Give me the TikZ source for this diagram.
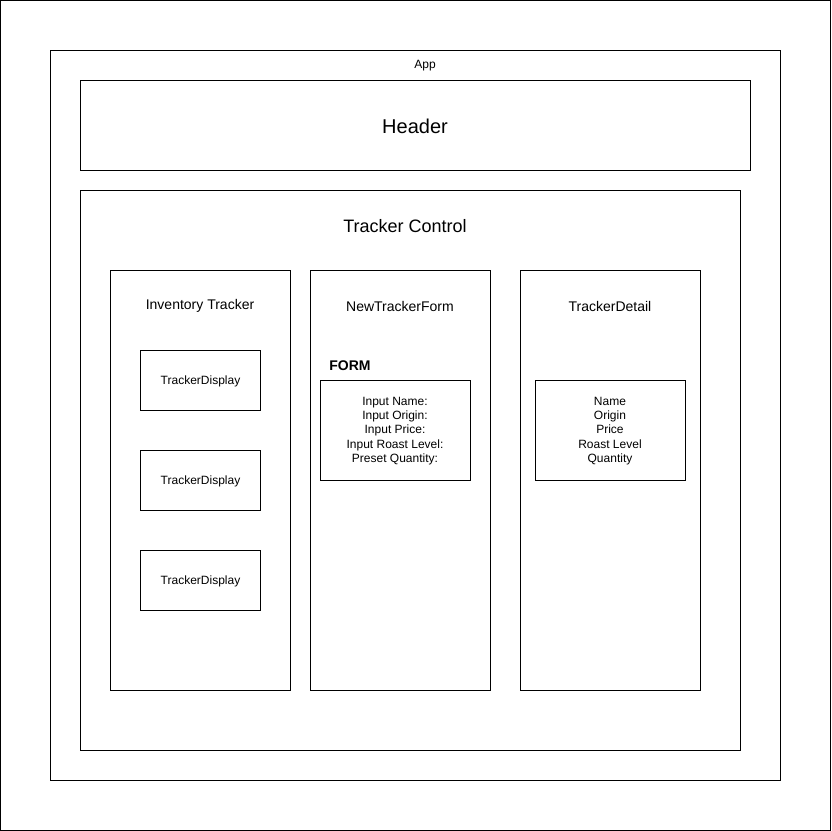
\documentclass[tikz,border=0pt]{standalone}
\usepackage{fontspec}
\setmainfont{Liberation Sans}
\usetikzlibrary{positioning}

\tikzset{
  box/.style={draw, line width=1pt, anchor=north west, inner sep=0pt},
  lbl/.style={inner sep=0pt, font=\fontsize{12}{14}\selectfont},
  lines/.style={inner sep=0pt, align=center, font=\fontsize{12}{14.4}\selectfont}
}

\begin{document}
\begin{tikzpicture}[x=1pt,y=-1pt]
\useasboundingbox (0,0) rectangle (831,831);
% Outer frame
\draw[line width=1pt] (0.5,0.5) rectangle (830.5,830.5);
% App
\node[box, minimum width=730pt, minimum height=730pt] (app) at (50,50) {};
\node[lbl] (applbl) at (425,66) {App};
% Header
\node[box, minimum width=670pt, minimum height=90pt] (header) at (80,80) {};
\node[lbl, font=\fontsize{20}{24}\selectfont] (headerlbl) at (415,126) {Header};
% Tracker control
\node[box, minimum width=660pt, minimum height=560pt] (control) at (80,190) {};
\node[lbl, font=\fontsize{18}{22}\selectfont] (controllbl) at (405,226.5) {Tracker Control};
% Inventory tracker
\node[box, minimum width=180pt, minimum height=420pt] (inventory) at (110,270) {};
\node[lbl, font=\fontsize{14}{17}\selectfont] (inventorylbl) at (200,306) {Inventory Tracker};
\foreach \i/\y in {1/350,2/450,3/550} {
  \node[box, minimum width=120pt, minimum height=60pt] (display\i) at (140,\y) {};
  \node[lbl] (display\i lbl) at ([yshift=-1pt]display\i.center) {TrackerDisplay};
}
% New tracker form
\node[box, minimum width=180pt, minimum height=420pt] (newform) at (310,270) {};
\node[lbl, font=\fontsize{14}{17}\selectfont] (newformlbl) at (400,306) {NewTrackerForm};
\node[lbl, font=\bfseries\fontsize{14}{17}\selectfont] (formlbl) at (350,366) {FORM};
\node[box, minimum width=150pt, minimum height=100pt] (form) at (320,380) {};
\node[lines] (formfields) at (395,431) {Input Name:\\Input Origin:\\Input Price:\\Input Roast Level:\\Preset Quantity:};
% Tracker detail
\node[box, minimum width=180pt, minimum height=420pt] (detail) at (520,270) {};
\node[lbl, font=\fontsize{14}{17}\selectfont] (detaillbl) at (610,306) {TrackerDetail};
\node[box, minimum width=150pt, minimum height=100pt] (detailbox) at (535,380) {};
\node[lines] (detailfields) at (610,431) {Name\\Origin\\Price\\Roast Level\\Quantity};
\end{tikzpicture}
\end{document}
